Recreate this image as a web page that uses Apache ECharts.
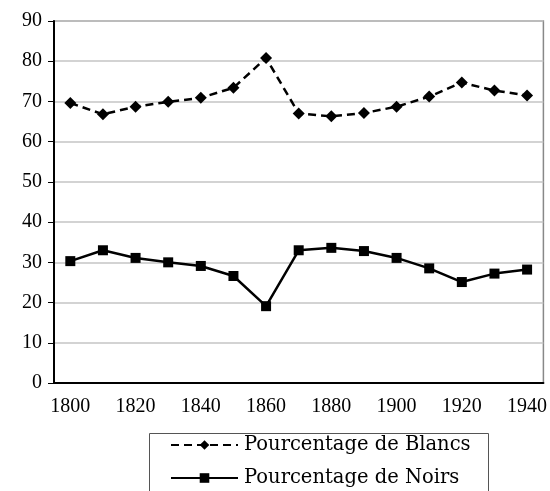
<!DOCTYPE html>
<html>
<head>
<meta charset="utf-8">
<script src="https://cdn.jsdelivr.net/npm/echarts@6/dist/echarts.min.js"></script>
<style>
  html, body { margin: 0; padding: 0; background: #fff; }
  #chart { width: 550px; height: 491px; }
</style>
</head>
<body>
<div id="chart"></div>
<script>
const years = ["1800", "1810", "1820", "1830", "1840", "1850", "1860", "1870",
  "1880", "1890", "1900", "1910", "1920", "1930", "1940"];
const blancs = [69.6, 66.8, 68.7, 69.9, 70.9, 73.4, 80.8, 67.0, 66.3, 67.1, 68.7, 71.2, 74.7, 72.7, 71.5];
const noirs = [30.3, 33.0, 31.1, 30.0, 29.1, 26.6, 19.1, 33.0, 33.6, 32.8, 31.1, 28.5, 25.1, 27.2, 28.2];
const names = ["Pourcentage de Blancs", "Pourcentage de Noirs"];

const font = "Liberation Serif";
const legendFont = "DejaVu Serif";

function legendRow(name, top) {
  return {
    left: 170,
    top: top,
    padding: 0,
    itemWidth: 67,
    itemHeight: 12,
    selectedMode: false,
    textStyle: { fontFamily: legendFont, fontSize: 19.5, color: "#000", padding: [0, 0, 0, 1] },
    data: [name],
  };
}

const chart = echarts.init(document.getElementById("chart"));
chart.setOption({
  animation: false,
  textStyle: { fontFamily: font },
  grid: {
    left: 54,
    right: 4,
    top: 21,
    bottom: 108,
    show: true,
    borderColor: "#888",
    borderWidth: 1.5,
  },
  graphic: [
    {
      type: "rect",
      left: 147,
      top: 431,
      shape: { width: 339, height: 80 },
      style: { fill: "none", stroke: "#555", lineWidth: 1 },
    },
  ],
  legend: [legendRow(names[0], 435), legendRow(names[1], 468)],
  xAxis: {
    type: "category",
    data: years,
    boundaryGap: true,
    axisLine: { lineStyle: { color: "#000", width: 2 } },
    axisTick: { interval: 0, length: 6, lineStyle: { color: "#000" } },
    axisLabel: { interval: 1, color: "#000", fontSize: 20, margin: 14, fontFamily: font },
  },
  yAxis: {
    type: "value",
    min: 0,
    max: 90,
    interval: 10,
    axisLine: { show: true, lineStyle: { color: "#000", width: 2 } },
    axisTick: { show: true, length: 6, lineStyle: { color: "#000" } },
    axisLabel: { color: "#000", fontSize: 20, margin: 12, fontFamily: font },
    splitLine: { lineStyle: { color: "#c4c4c4", width: 1.5 } },
  },
  series: [
    {
      name: names[0],
      type: "line",
      data: blancs,
      symbol: "diamond",
      symbolSize: 12,
      itemStyle: { color: "#000" },
      lineStyle: { color: "#000", width: 2.5, type: [8, 5] },
    },
    {
      name: names[1],
      type: "line",
      data: noirs,
      symbol: "rect",
      symbolSize: 10,
      itemStyle: { color: "#000" },
      lineStyle: { color: "#000", width: 2.5 },
    },
  ],
});
</script>
</body>
</html>
